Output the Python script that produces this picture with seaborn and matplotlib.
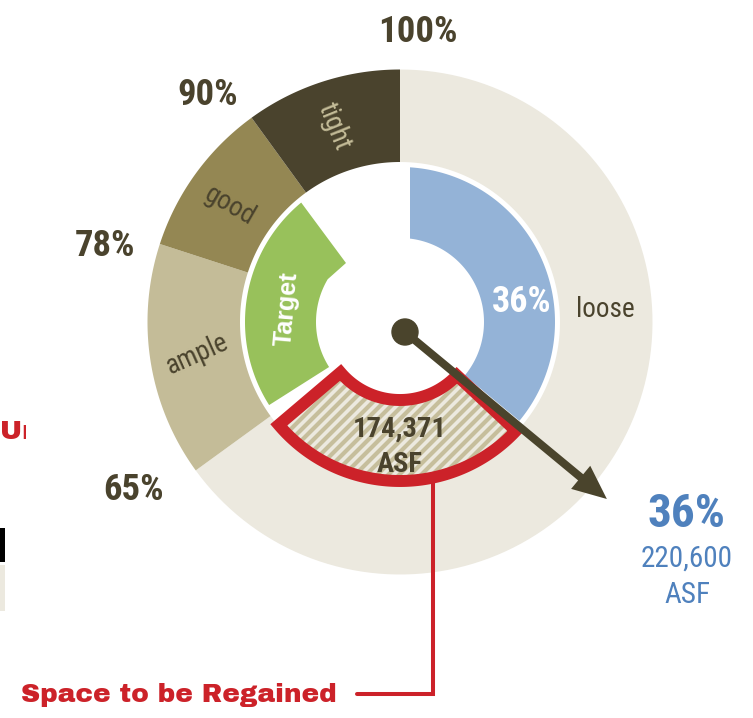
import numpy as np
import matplotlib
matplotlib.use("Agg")
import matplotlib.pyplot as plt
from matplotlib.patches import Polygon, Rectangle, Circle, FancyArrow
import seaborn as sns

# ---------------- data ----------------
zone_names = ["loose", "ample", "good", "tight"]
zone_edges = [0, 65, 80, 90, 100]          # percent of the dial
zone_colors = ["#ECE9DF", "#C4BC98", "#948753", "#4A432D"]
zone_text_colors = ["#4A432D", "#4A432D", "#4A432D", "#C4BC98"]
zone_label_pos = [24, 72.5, 84.5, 94.8]    # percent position of zone names
zone_label_rot = [0, 24, -30, -68]
scale_labels = ["65%", "78%", "90%", "100%"]
current_pct = 36
current_asf = "220,600"
target_range = [66, 89]
regain_range = [37, 63.8]
regain_asf = "174,371"

# ---------------- style ----------------
sns.set_theme(style="white")
COND = "Roboto Condensed"
plt.rcParams["font.family"] = [COND, "DejaVu Sans"]

DARK = "#4A432D"
BLUE = "#94B3D7"
BLUE_TXT = "#4F81BD"
GREEN = "#98C15B"
RED = "#CC2229"

W, H = 753, 718
fig = plt.figure(figsize=(W / 100, H / 100), dpi=100)
ax = fig.add_axes([0, 0, 1, 1])
ax.set_xlim(0, W)
ax.set_ylim(H, 0)
ax.set_aspect("equal")
ax.axis("off")

CX, CY = 400, 322
R_OUT, R_OUT_IN = 252.5, 160
R_IN_OUT, R_IN_IN = 155, 84


def pt(frac, r, cx=CX, cy=CY):
    a = np.deg2rad(frac * 3.6)
    return cx + r * np.sin(a), cy - r * np.cos(a)


def arc(f0, f1, r, n=120):
    f = np.linspace(f0, f1, n)
    a = np.deg2rad(f * 3.6)
    return np.column_stack([CX + r * np.sin(a), CY - r * np.cos(a)])


def sector(f0, f1, r0, r1):
    return np.vstack([arc(f0, f1, r1), arc(f1, f0, r0)])


# outer zones
for i, name in enumerate(zone_names):
    ax.add_patch(Polygon(sector(zone_edges[i], zone_edges[i + 1], R_OUT_IN, R_OUT),
                         closed=True, facecolor=zone_colors[i], edgecolor="none", zorder=1))
    x, y = pt(zone_label_pos[i], 206)
    ax.text(x, y, name, ha="center", va="center", fontsize=19.5, color=zone_text_colors[i],
            rotation=zone_label_rot[i], rotation_mode="anchor", zorder=6)

# scale labels (at zone edges)
label_edges = zone_edges[1:]
label_nudge = [(-24, -8), (-10, 17), (-16, 16), (18, 10)]
for lab, e, (dx, dy) in zip(scale_labels, label_edges, label_nudge):
    x, y = pt(e, 300)
    ax.text(x + dx, y + dy, lab, ha="center", va="center", fontsize=26.5,
            fontweight="bold", color=DARK, zorder=6)

# current (blue) arc with vertical cut near the top
cut = 10
f_o = np.degrees(np.arcsin(cut / R_IN_OUT)) / 3.6
f_i = np.degrees(np.arcsin(cut / R_IN_IN)) / 3.6
blue_poly = np.vstack([arc(f_o, current_pct, R_IN_OUT), arc(current_pct, f_i, R_IN_IN)])
ax.add_patch(Polygon(blue_poly, closed=True, facecolor=BLUE, edgecolor="none", zorder=2))
x, y = pt(current_pct * 0.62, 123)
ax.text(x, y + 1, f"{current_pct}%", ha="center", va="center", fontsize=26,
        fontweight="bold", color="white", zorder=6)

# target (green) with chevron top
t0, t1 = target_range
green_poly = np.vstack([arc(t0, t1, R_IN_OUT),
                        [pt(t1 - 0.8, 80)],
                        arc(t1 - 5.5, t0, R_IN_IN)])
ax.add_patch(Polygon(green_poly, closed=True, facecolor=GREEN, edgecolor="none", zorder=2))
x, y = pt((t0 + t1) / 2 - 0.7, 114)
ax.text(x, y, "Target", ha="center", va="center", fontsize=18, fontweight="bold",
        color="white", rotation=85, family=["Liberation Sans", "DejaVu Sans"], zorder=6)

# space to be regained (hatched) wedge
r0, r1 = regain_range
poly = sector(r0, r1, 78, 159)
base = Polygon(poly, closed=True, facecolor="#ECE9DF", edgecolor="none", zorder=3)
ax.add_patch(base)
for c in np.arange(500, 1100, 11):
    xs = np.array([200, 600])
    ln, = ax.plot(xs, -xs + c, color="#C6BE9C", lw=3.0, solid_capstyle="butt", zorder=3.5)
    ln.set_clip_path(base)
ax.add_patch(Polygon(poly, closed=True, fill=False, edgecolor=RED, lw=8.6,
                     joinstyle="miter", zorder=5))
ax.text(CX, 429, regain_asf, ha="center", va="center", fontsize=20.5, color=DARK,
        fontweight="bold", zorder=6)
ax.text(CX, 465, "ASF", ha="center", va="center", fontsize=20.5, color=DARK,
        fontweight="bold", zorder=6)

# connector + caption
lx = 433
ly0 = CY + np.sqrt(159 ** 2 - (lx - CX) ** 2)
ax.plot([lx, lx, 357], [ly0, 694, 694], color=RED, lw=2.9, solid_joinstyle="miter", zorder=4)
ax.text(337, 695, "Space to be Regained", ha="right", va="center", fontsize=19,
        color=RED, family=["Archivo Black", "DejaVu Sans"], zorder=6)

# needle
PX, PY = 405, 332
L = 262
a = np.deg2rad(current_pct * 3.6)
ax.add_patch(FancyArrow(PX, PY, L * np.sin(a), -L * np.cos(a), width=8, head_width=30,
                        head_length=34, length_includes_head=True, color="#4A442C",
                        lw=0, zorder=7))
ax.add_patch(Circle((PX, PY), 13, color="#4A442C", zorder=8))

# current value callout
ax.text(687, 514, f"{current_pct}%", ha="center", va="center", fontsize=34,
        fontweight="bold", color=BLUE_TXT, zorder=6)
ax.text(687, 559, current_asf, ha="center", va="center", fontsize=21, color=BLUE_TXT, zorder=6)
ax.text(687, 595, "ASF", ha="center", va="center", fontsize=21, color=BLUE_TXT, zorder=6)

# cut-off legend fragments at the left edge
ax.text(0, 432, "Un", ha="left", va="center", fontsize=19, color=RED,
        family=["Archivo Black", "DejaVu Sans"], zorder=6)
ax.add_patch(Rectangle((26, 405), 40, 50, facecolor="white", edgecolor="none", zorder=6.5))
ax.add_patch(Rectangle((0, 528), 5, 34, facecolor="black", edgecolor="none"))
ax.add_patch(Rectangle((0, 565), 5, 46, facecolor="#ECE9DF", edgecolor="none"))

fig.savefig("out.png", dpi=100)
